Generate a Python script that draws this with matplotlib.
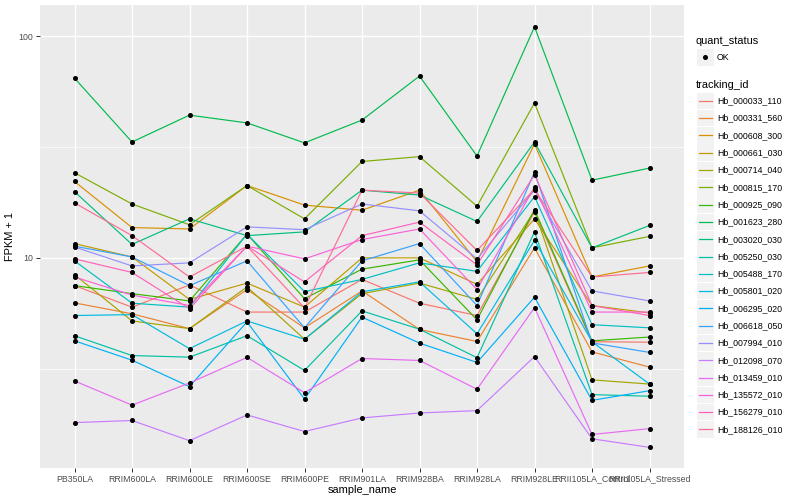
import matplotlib
matplotlib.use("Agg")
import matplotlib.pyplot as plt
from matplotlib.patches import Rectangle

plt.rcParams["font.family"] = ["Liberation Sans", "DejaVu Sans"]

samples = [
    "PB350LA", "RRIM600LA", "RRIM600LE", "RRIM600SE", "RRIM600PE",
    "RRIM901LA", "RRIM928BA", "RRIM928LA", "RRIM928LE",
    "RRII105LA_Control", "RRII105LA_Stressed",
]

tracking_ids = [
    "Hb_000033_110", "Hb_000331_560", "Hb_000608_300", "Hb_000661_030",
    "Hb_000714_040", "Hb_000815_170", "Hb_000925_090", "Hb_001623_280",
    "Hb_003020_030", "Hb_005250_030", "Hb_005488_170", "Hb_005801_020",
    "Hb_006295_020", "Hb_006618_050", "Hb_007994_010", "Hb_012098_070",
    "Hb_013459_010", "Hb_135572_010", "Hb_156279_010", "Hb_188126_010",
]

# FPKM + 1, one list per gene, in sample order
hb_000033_110 = [7.5, 6.0, 7.55, 5.7, 5.7, 8.0, 6.25, 5.5, 16.1, 4.19, 4.17]
hb_000331_560 = [6.27, 5.6, 4.8, 7.2, 4.84, 7.1, 4.76, 4.2, 11.1, 3.77, 3.22]
hb_000608_300 = [22.1, 13.7, 13.5, 21.2, 17.3, 16.4, 20.2, 9.6, 32.6, 8.2, 9.2]
hb_000661_030 = [11.6, 10.1, 6.5, 7.7, 6.0, 10.0, 10.0, 7.6, 15.0, 6.1, 5.65]
hb_000714_040 = [8.4, 5.2, 4.8, 7.4, 4.3, 6.9, 7.7, 6.5, 16.3, 2.82, 2.7]
hb_000815_170 = [24.2, 17.5, 14.1, 21.2, 15.0, 27.2, 28.6, 17.1, 49.9, 11.1, 12.5]
hb_000925_090 = [7.5, 6.9, 6.4, 12.8, 6.55, 8.9, 9.8, 5.26, 16.5, 4.23, 4.4]
hb_001623_280 = [64.6, 33.3, 44.0, 40.6, 33.0, 41.8, 66.0, 28.8, 110.0, 22.4, 25.4]
hb_003020_030 = [19.9, 11.5, 15.0, 12.6, 13.1, 20.2, 19.2, 14.6, 33.3, 11.1, 14.0]
hb_005250_030 = [4.46, 3.63, 3.57, 4.46, 3.11, 5.77, 4.77, 3.55, 13.1, 2.42, 2.38]
hb_005488_170 = [9.7, 6.25, 6.0, 12.8, 7.05, 8.0, 9.5, 8.7, 18.9, 5.0, 4.84]
hb_005801_020 = [5.5, 5.55, 3.9, 5.2, 4.3, 7.03, 7.8, 4.55, 12.0, 4.19, 2.7]
hb_006295_020 = [4.23, 3.46, 2.63, 5.15, 2.31, 5.41, 4.13, 3.38, 6.65, 2.28, 2.52]
hb_006618_050 = [11.3, 10.1, 7.5, 9.7, 4.84, 9.7, 11.6, 6.1, 24.4, 4.14, 3.75]
hb_007994_010 = [11.2, 9.2, 9.5, 13.8, 13.4, 17.5, 16.3, 9.9, 20.2, 7.1, 6.4]
hb_012098_070 = [1.81, 1.85, 1.50, 1.96, 1.65, 1.90, 2.0, 2.05, 3.59, 1.53, 1.40]
hb_013459_010 = [2.79, 2.17, 2.73, 3.56, 2.47, 3.52, 3.45, 2.56, 5.97, 1.6, 1.7]
hb_135572_010 = [8.2, 6.8, 6.1, 11.3, 9.9, 12.1, 13.5, 7.2, 20.9, 5.7, 5.7]
hb_156279_010 = [9.9, 8.6, 5.9, 11.3, 7.8, 12.6, 14.5, 9.3, 23.7, 6.1, 5.5]
hb_188126_010 = [17.7, 12.6, 8.2, 11.3, 5.95, 20.2, 19.6, 10.8, 20.4, 8.2, 8.6]

series = [
    hb_000033_110, hb_000331_560, hb_000608_300, hb_000661_030, hb_000714_040,
    hb_000815_170, hb_000925_090, hb_001623_280, hb_003020_030, hb_005250_030,
    hb_005488_170, hb_005801_020, hb_006295_020, hb_006618_050, hb_007994_010,
    hb_012098_070, hb_013459_010, hb_135572_010, hb_156279_010, hb_188126_010,
]

# ggplot2 default hue palette for 20 levels
colors = [
    "#F8766D", "#EA8331", "#D89000", "#C09B00", "#A3A500",
    "#7CAE00", "#39B600", "#00BB4E", "#00BF7D", "#00C1A3",
    "#00BFC4", "#00BAE0", "#00B0F6", "#35A2FF", "#9590FF",
    "#C77CFF", "#E76BF3", "#FA62DB", "#FF62BC", "#FF6C91",
]

fig = plt.figure(figsize=(8, 5), dpi=100)
ax = fig.add_axes([40 / 800, 32 / 500, 644 / 800, 463 / 500])
ax.set_facecolor("#EBEBEB")

x = list(range(len(samples)))
for vals, col in zip(series, colors):
    ax.plot(x, vals, color=col, lw=0.85, zorder=2)
for vals in series:
    ax.plot(x, vals, ls="none", marker="o", ms=2.6, color="black", zorder=3)

ax.set_yscale("log")
ax.set_ylim(1.13, 138)
ax.set_xlim(-0.6, len(samples) - 0.4)
ax.set_yticks([10, 100])
ax.set_yticklabels(["10", "100"])
ax.set_yticks([10 ** 0.5, 10 ** 1.5], minor=True)
ax.yaxis.set_minor_formatter(plt.NullFormatter())
ax.set_xticks(x)
ax.set_xticklabels(samples)

ax.grid(True, which="major", color="white", lw=1.0, zorder=0)
ax.grid(True, which="minor", axis="y", color="white", lw=0.5, zorder=0)
ax.set_axisbelow(True)
for s in ax.spines.values():
    s.set_visible(False)
ax.tick_params(axis="both", which="major", length=2.7, width=0.7,
               color="#333333", labelcolor="#4D4D4D", labelsize=6.3, pad=2)
ax.tick_params(axis="y", which="minor", length=0)

ax.set_xlabel("sample_name", fontsize=7.9, color="black", labelpad=1)
ax.set_ylabel("FPKM + 1", fontsize=7.9, color="black", labelpad=3)

# legend drawn in pixel coordinates
lg = fig.add_axes([0, 0, 1, 1], zorder=5)
lg.set_xlim(0, 800)
lg.set_ylim(500, 0)
lg.axis("off")
lg.patch.set_alpha(0)

lg.text(696, 41, "quant_status", fontsize=7.9, va="center", ha="left")
lg.add_patch(Rectangle((697, 48.5), 16.5, 17, facecolor="#F2F2F2", edgecolor="none"))
lg.plot([705.2], [57], marker="o", ms=2.6, color="black")
lg.text(717, 57, "OK", fontsize=6.3, va="center", ha="left")

lg.text(696, 84.5, "tracking_id", fontsize=7.9, va="center", ha="left")
y0 = 100.9
step = 17.29
for i, (name, col) in enumerate(zip(tracking_ids, colors)):
    yc = y0 + i * step
    lg.add_patch(Rectangle((697, yc - 8.3), 16.5, 16.6, facecolor="#F2F2F2",
                           edgecolor="none"))
    lg.plot([698.5, 711.8], [yc, yc], color=col, lw=0.9)
    lg.text(717, yc, name, fontsize=6.3, va="center", ha="left")

fig.savefig("out.png", dpi=100)
